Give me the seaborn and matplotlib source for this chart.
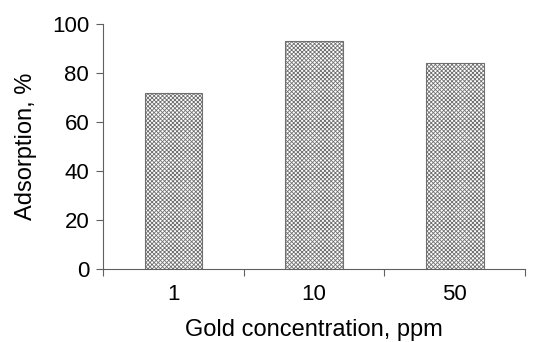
import pandas as pd
import seaborn as sns
import matplotlib.pyplot as plt

concentrations = ['1', '10', '50']
adsorption = [72, 93, 84]

df = pd.DataFrame({'conc': concentrations, 'ads': adsorption})

sns.set_style('ticks')
plt.rcParams['font.family'] = ['Liberation Sans', 'DejaVu Sans']
plt.rcParams['hatch.color'] = '#303030'
plt.rcParams['hatch.linewidth'] = 0.6
plt.rcParams['text.color'] = 'black'
plt.rcParams['axes.labelcolor'] = 'black'
plt.rcParams['xtick.labelcolor'] = 'black'
plt.rcParams['ytick.labelcolor'] = 'black'

fig = plt.figure(figsize=(5.37, 3.42), dpi=100)
ax = fig.add_axes([0.192, 0.213, 0.786, 0.717])

sns.barplot(data=df, x='conc', y='ads', color='white', edgecolor='#707070',
            linewidth=0.8, width=0.41, hatch='xxxxxxxx', ax=ax)

ax.set_xlim(-0.5, 2.5)
ax.set_ylim(0, 100)
ax.set_yticks(range(0, 101, 20))
ax.set_xticks([-0.5, 0.5, 1.5, 2.5], minor=True)
ax.tick_params(axis='x', which='major', length=0, pad=11, labelsize=16)
ax.tick_params(axis='x', which='minor', length=5, width=0.8, color='#606060', direction='out')
ax.tick_params(axis='y', length=5, width=0.8, color='#606060', labelsize=16, pad=5)

ax.set_xlabel('Gold concentration, ppm', fontsize=17, labelpad=10)
ax.set_ylabel('Adsorption, %', fontsize=17, labelpad=11)

sns.despine(ax=ax)
for s in ['left', 'bottom']:
    ax.spines[s].set_color('#606060')
    ax.spines[s].set_linewidth(0.8)

fig.savefig('out.png', dpi=100)
